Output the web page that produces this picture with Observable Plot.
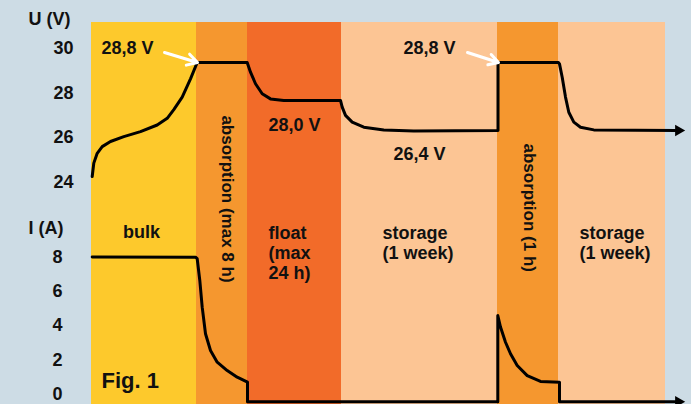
<!DOCTYPE html>
<html>
<head>
<meta charset="utf-8">
<script src="https://cdn.jsdelivr.net/npm/d3@7"></script>
<script src="https://cdn.jsdelivr.net/npm/@observablehq/plot@0.6"></script>
<style>
  html, body { margin: 0; padding: 0; background: #cddce5; }
  #chart svg { display: block; }
</style>
</head>
<body>
<div id="chart"></div>
<script>
// ---- Data (time in arbitrary units, no time axis shown) ----
const phaseKind  = ["bulk", "absorption", "float", "storage", "absorption", "storage"];
const phaseStart = [0, 105, 156, 250, 406, 467];
const phaseEnd   = [105, 156, 250, 406, 467, 574];

// Voltage U (V) trace
const voltT = [0.7, 2.3, 5.7, 10.7, 19, 32.3, 49, 65.7, 75.7, 82.3, 90.7, 99, 105.7,
               155.7, 159, 164, 170.7, 179, 192.3, 249,
               250.7, 254, 260.7, 272.3, 292.3, 322.3, 406.5,
               406.5, 467, 468, 470.7, 474, 477.3, 482.3, 489, 502.3, 585];
const voltV = [24.26, 24.86, 25.30, 25.60, 25.83, 26.05, 26.27, 26.57, 26.87, 27.26, 27.82, 28.64, 29.37,
               29.37, 28.94, 28.42, 27.97, 27.74, 27.67, 27.67,
               27.37, 27.00, 26.70, 26.47, 26.35, 26.30, 26.32,
               29.37, 29.37, 29.31, 28.71, 27.82, 27.14, 26.70, 26.47, 26.35, 26.32];

// Current I (A) trace
const currT = [0.7, 104, 105.7, 108.3, 110.7, 114, 119, 125.7, 135.7, 145.7, 156,
               156, 406.3, 406.3, 409, 414, 419, 425.7, 435.7, 449, 468,
               468, 585];
const currI = [8.0, 7.99, 7.9, 6.63, 5.07, 3.52, 2.54, 1.86, 1.37, 0.98, 0.69,
               -0.45, -0.45, 4.58, 3.91, 3.02, 2.35, 1.66, 1.07, 0.73, 0.69,
               -0.45, -0.45];

// Tick labels
const uTicks = [24, 26, 28, 30];
const iTicks = [0, 2, 4, 6, 8];

// Annotations
const valueLabels = ["28,8 V", "28,8 V", "28,0 V", "26,4 V"];
const valueLabelT = [10, 312, 177, 302];
const valueLabelV = [30, 30, 26.55, 25.25];

const phaseLabels  = ["bulk", "float\n(max\n24 h)", "storage\n(1 week)", "storage\n(1 week)"];
const phaseLabelT  = [50, 177, 291, 488];
const phaseLabelV  = [21.76, 20.85, 21.31, 21.31];

const rotLabels = ["absorption (max 8 h)", "absorption (1 h)"];
const rotLabelT = [135.5, 437.5];
const rotLabelV = [27.0, 25.74];

// White pointer arrows to the 28,8 V corners
const ptrT1 = [73, 376], ptrV1 = [29.82, 29.82];
const ptrT2 = [106, 407], ptrV2 = [29.37, 29.37];

// ---- Calibration of the lower (current) panel onto the shared vertical scale ----
const I_ZERO_AS_V = 14.507, V_PER_A = 0.768;
const iToV = i => I_ZERO_AS_V + V_PER_A * i;

// ---- Tables ----
const phases = phaseKind.map((k, i) => ({kind: k, start: phaseStart[i], end: phaseEnd[i]}));
const volt = voltT.map((t, i) => ({t, v: voltV[i]}));
const curr = currT.map((t, i) => ({t, v: iToV(currI[i])}));
const uTickData = uTicks.map(u => ({label: String(u), v: u}));
const iTickData = iTicks.map(i => ({label: String(i), v: iToV(i)}));
const valData = valueLabels.map((s, i) => ({s, t: valueLabelT[i], v: valueLabelV[i]}));
const phaseData = phaseLabels.map((s, i) => ({s, t: phaseLabelT[i], v: phaseLabelV[i]}));
const rotData = rotLabels.map((s, i) => ({s, t: rotLabelT[i], v: rotLabelV[i]}));
const ptrData = ptrT1.map((t, i) => ({x1: t, y1: ptrV1[i], x2: ptrT2[i], y2: ptrV2[i]}));
const arrowTips = [
  {t: 587, v: voltV[voltV.length - 1]},
  {t: 587, v: iToV(currI[currI.length - 1])}
];

const Y_MIN = 14.036, Y_MAX = 31.166;
const font = "'Liberation Sans', Arial, Helvetica, sans-serif";
const txt = {fontSize: 18, fontWeight: "bold", fill: "#111"};

const chart = Plot.plot({
  width: 691,
  height: 404,
  marginLeft: 91,
  marginRight: 0,
  marginTop: 22,
  marginBottom: 0,
  x: {domain: [0, 600], axis: null},
  y: {domain: [Y_MIN, Y_MAX], axis: null},
  color: {
    domain: ["bulk", "absorption", "float", "storage"],
    range: ["#fdc92c", "#f5972f", "#f26b29", "#fcc594"]
  },
  style: {background: "#cddce5", fontFamily: font, overflow: "visible"},
  marks: [
    Plot.rect(phases, {x1: "start", x2: "end", y1: Y_MIN, y2: Y_MAX, fill: "kind"}),
    Plot.line(volt, {x: "t", y: "v", stroke: "black", strokeWidth: 3, strokeLinejoin: "round"}),
    Plot.line(curr, {x: "t", y: "v", stroke: "black", strokeWidth: 3, strokeLinejoin: "round"}),
    Plot.dot(arrowTips, {x: "t", y: "v", symbol: "triangle", rotate: 90, r: 4.3, fill: "black", stroke: "none"}),
    Plot.arrow(ptrData, {x1: "x1", y1: "y1", x2: "x2", y2: "y2", stroke: "white", strokeWidth: 3, headLength: 11}),
    // axis titles and tick labels
    Plot.text([{s: "U (V)", v: 31.30}, {s: "I (A)", v: 21.93}], {x: -63, y: "v", text: "s", textAnchor: "start", ...txt}),
    Plot.text(uTickData, {x: -18, y: "v", text: "label", textAnchor: "end", ...txt}),
    Plot.text(iTickData, {x: -29, y: "v", text: "label", textAnchor: "end", ...txt}),
    // annotations
    Plot.text(valData, {x: "t", y: "v", text: "s", textAnchor: "start", ...txt}),
    Plot.text(phaseData.slice(0, 1), {x: "t", y: "v", text: "s", textAnchor: "middle", ...txt}),
    Plot.text(phaseData.slice(1), {x: "t", y: "v", text: "s", textAnchor: "start", lineHeight: 1.12, ...txt}),
    Plot.text(rotData, {x: "t", y: "v", text: "s", textAnchor: "start", rotate: 90, ...txt, fontSize: 17}),
    Plot.text([{s: "Fig. 1", t: 10, v: 15.11}], {x: "t", y: "v", text: "s", textAnchor: "start", fontSize: 22, fontWeight: "bold", fill: "#111"})
  ]
});
document.getElementById("chart").append(chart);
</script>
</body>
</html>
